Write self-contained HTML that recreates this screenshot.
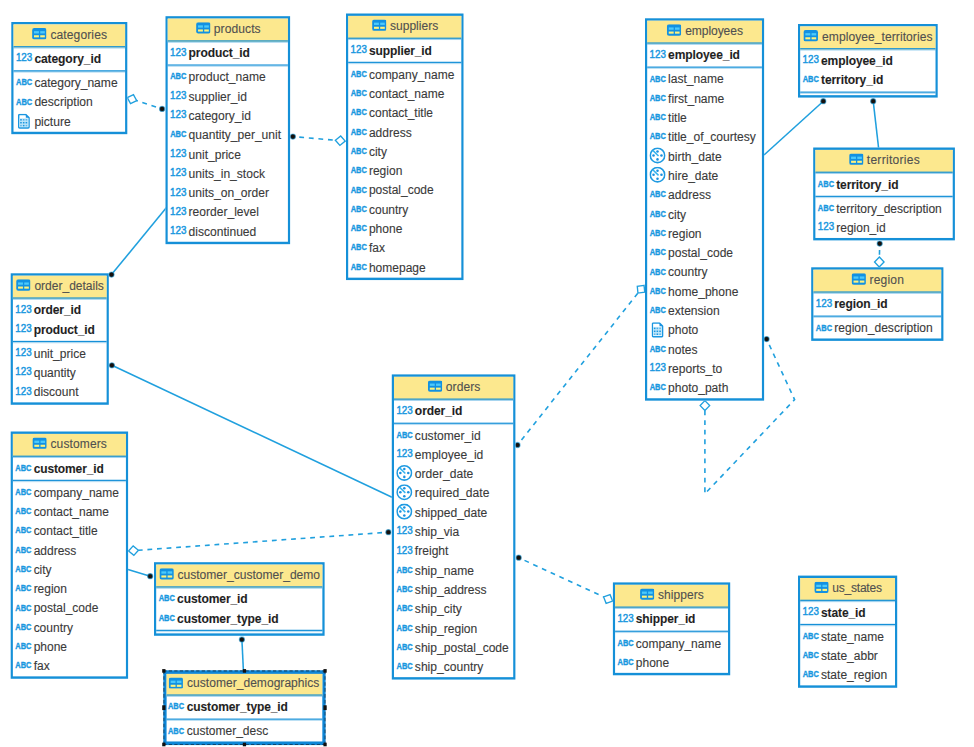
<!DOCTYPE html>
<html lang="en">
<head>
<meta charset="utf-8">
<title>ER Diagram</title>
<style>
html,body{margin:0;padding:0;background:#fff}
body{width:974px;height:747px;overflow:hidden;position:relative;font-family:"Liberation Sans",Arial,sans-serif;font-size:11.04px;color:#3a3a3a}
#erd{position:absolute;left:0;top:0;width:974px;height:747px;overflow:hidden;background:#fff}
#wires{position:absolute;left:0;top:0;width:974px;height:747px;pointer-events:none}
.tbl{position:absolute;left:0;top:0;transform-origin:0 0;box-sizing:border-box;border:2px solid #1590d8;background:#fff;white-space:nowrap}
.hd{position:relative;height:18px;background:#fce88e;border-bottom:1px solid #1590d8;box-shadow:0 1px 0 rgba(23,146,216,.4)}
.hg{position:absolute;top:0;height:18px;line-height:18px}
.ti{position:absolute;left:0;top:3.4px;width:13.3px;height:9.4px}
.hg .t{position:absolute;left:16.62px;top:-1px;display:block;color:#505050;-webkit-text-stroke:0.1px #505050}
.pk{padding:1px 0 2px;border-bottom:1px solid #1590d8;box-shadow:0 1px 0 rgba(23,146,216,.3)}
.at{padding-top:1px}
.row{position:relative;height:16px;line-height:16px}
.nm{position:absolute;left:19.1px;top:-0.1px;-webkit-text-stroke:0.1px #3a3a3a}
.nm.k{font-weight:bold;color:#1f1f1f;letter-spacing:-0.1px}
.ic{position:absolute;color:#1a98df}
svg.ic.n,svg.ic.a{left:1.5px;top:0;width:15.59px;height:16px;overflow:visible;font-family:"Liberation Sans",Arial,sans-serif;fill:#1a98df;stroke:#1a98df}
svg.ic.n{font-size:11.6px;stroke-width:.5px}
svg.ic.a{font-size:9.8px;font-weight:bold;stroke-width:.4px}
svg.ic.d{left:1.9px;top:1.3px;width:14.9px;height:13.4px}
svg.ic.b{left:3.9px;top:2.2px;width:11px;height:12.6px}
.sel{border:3px solid #0f86d6;outline:1px dashed rgba(10,20,30,.55);outline-offset:-1px}
.sel .hd,.sel .hg{height:17px;line-height:17px}
.sel .row,.sel .hg{margin-left:-0.6px}
.sel .ti{top:3px}
.hn{position:absolute;width:3.6px;height:3.4px;background:#111}
</style>
</head>
<body>
<div id="erd">
<svg id="wires" viewBox="0 0 974 747" width="974" height="747" aria-hidden="true">
<g class="wire"><path d="M162.1 108.9 L136.71 100.63" fill="none" stroke="#20a0de" stroke-width="1.6" stroke-dasharray="4.8 4.8" stroke-dashoffset="-6.4"/><circle cx="162.1" cy="108.9" r="2.6" fill="#16100c" stroke="#20a0de" stroke-opacity=".55" stroke-width="1.1"/><polygon points="127.29,97.57 130.53,103.62 136.71,100.63 133.47,94.58" fill="#fff" stroke="#20a0de" stroke-width="1.35" stroke-linejoin="miter"/></g>
<g class="wire"><path d="M292.9 136.6 L335.37 140.27" fill="none" stroke="#20a0de" stroke-width="1.6" stroke-dasharray="4.8 4.8" stroke-dashoffset="-6.4"/><circle cx="292.9" cy="136.6" r="2.6" fill="#16100c" stroke="#20a0de" stroke-opacity=".55" stroke-width="1.1"/><polygon points="345.23,141.13 340.71,135.97 335.37,140.27 339.89,145.43" fill="#fff" stroke="#20a0de" stroke-width="1.35" stroke-linejoin="miter"/></g>
<g class="wire"><path d="M111.5 274.6 L166.5 207.6" fill="none" stroke="#20a0de" stroke-width="1.55"/><circle cx="111.5" cy="274.6" r="2.6" fill="#16100c" stroke="#20a0de" stroke-opacity=".55" stroke-width="1.1"/></g>
<g class="wire"><path d="M111.9 365.3 L392 497.2" fill="none" stroke="#20a0de" stroke-width="1.55"/><circle cx="111.9" cy="365.3" r="2.6" fill="#16100c" stroke="#20a0de" stroke-opacity=".55" stroke-width="1.1"/></g>
<g class="wire"><path d="M388.4 532.2 L138.44 550.24" fill="none" stroke="#20a0de" stroke-width="1.6" stroke-dasharray="4.8 4.8" stroke-dashoffset="-6.4"/><circle cx="388.4" cy="532.2" r="2.6" fill="#16100c" stroke="#20a0de" stroke-opacity=".55" stroke-width="1.1"/><polygon points="128.56,550.96 133.84,555.34 138.44,550.24 133.16,545.86" fill="#fff" stroke="#20a0de" stroke-width="1.35" stroke-linejoin="miter"/></g>
<g class="wire"><path d="M150.2 576.2 L128 569.5" fill="none" stroke="#20a0de" stroke-width="1.55"/><circle cx="150.2" cy="576.2" r="2.6" fill="#16100c" stroke="#20a0de" stroke-opacity=".55" stroke-width="1.1"/></g>
<g class="wire"><path d="M241.9 639.5 L243.4 670.6" fill="none" stroke="#20a0de" stroke-width="1.55"/><circle cx="241.9" cy="639.5" r="2.6" fill="#16100c" stroke="#20a0de" stroke-opacity=".55" stroke-width="1.1"/></g>
<g class="wire"><path d="M517.5 445 L637.93 293.08" fill="none" stroke="#20a0de" stroke-width="1.6" stroke-dasharray="4.8 4.8" stroke-dashoffset="-6.4"/><circle cx="517.5" cy="445" r="2.6" fill="#16100c" stroke="#20a0de" stroke-opacity=".55" stroke-width="1.1"/><polygon points="644.07,285.32 637.28,286.25 637.93,293.08 644.72,292.15" fill="#fff" stroke="#20a0de" stroke-width="1.35" stroke-linejoin="miter"/></g>
<g class="wire"><path d="M518.7 557.7 L603.61 596.92" fill="none" stroke="#20a0de" stroke-width="1.6" stroke-dasharray="4.8 4.8" stroke-dashoffset="-6.4"/><circle cx="518.7" cy="557.7" r="2.6" fill="#16100c" stroke="#20a0de" stroke-opacity=".55" stroke-width="1.1"/><polygon points="612.59,601.08 610.09,594.69 603.61,596.92 606.11,603.31" fill="#fff" stroke="#20a0de" stroke-width="1.35" stroke-linejoin="miter"/></g>
<g class="wire"><path d="M823.3 101.2 L764 155" fill="none" stroke="#20a0de" stroke-width="1.55"/><circle cx="823.3" cy="101.2" r="2.6" fill="#16100c" stroke="#20a0de" stroke-opacity=".55" stroke-width="1.1"/></g>
<g class="wire"><path d="M873.2 101.2 L878.6 148" fill="none" stroke="#20a0de" stroke-width="1.55"/><circle cx="873.2" cy="101.2" r="2.6" fill="#16100c" stroke="#20a0de" stroke-opacity=".55" stroke-width="1.1"/></g>
<g class="wire"><path d="M879.7 243.6 L879.41 257.05" fill="none" stroke="#20a0de" stroke-width="1.6" stroke-dasharray="4.8 4.8" stroke-dashoffset="-6.4"/><circle cx="879.7" cy="243.6" r="2.6" fill="#16100c" stroke="#20a0de" stroke-opacity=".55" stroke-width="1.1"/><polygon points="879.19,266.95 884.05,262.1 879.41,257.05 874.55,261.9" fill="#fff" stroke="#20a0de" stroke-width="1.35" stroke-linejoin="miter"/></g>
<g class="wire"><path d="M766.6 339.1 L794.6 399.6 L704.9 493.8 L704.9 410.55" fill="none" stroke="#20a0de" stroke-width="1.6" stroke-dasharray="4.8 4.8" stroke-dashoffset="-6.4"/><circle cx="766.6" cy="339.1" r="2.6" fill="#16100c" stroke="#20a0de" stroke-opacity=".55" stroke-width="1.1"/><polygon points="704.9,400.65 700.15,405.6 704.9,410.55 709.65,405.6" fill="#fff" stroke="#20a0de" stroke-width="1.35" stroke-linejoin="miter"/></g>
</svg>
<div class="tbl" style="width:106px;height:93px;transform:translate(11.3px,22px) scale(1.0943,1.2062)"><div class="hd"><div class="hg" style="left:17.14px"><svg class="ti" viewBox="0 0 14.5 11.3" preserveAspectRatio="none" aria-hidden="true"><rect x="0" y="0" width="14.5" height="11.3" rx="2.2" fill="#1291e2"/><rect x="1.9" y="3.1" width="4.9" height="2.3" fill="#4ccafb"/><rect x="8.1" y="3.1" width="4.6" height="2.3" fill="#4ccafb"/><rect x="1.9" y="7.2" width="4.9" height="2.1" fill="#fff37c"/><rect x="8.1" y="7.2" width="4.6" height="2.1" fill="#fff37c"/></svg><span class="t" style="letter-spacing:0.092px">categories</span></div></div><div class="pk"><div class="row"><svg class="ic n" viewBox="0 0 17 19.32" preserveAspectRatio="none" aria-hidden="true"><text x="0" y="12.9" transform="translate(0.2 0) scale(.845 1)">123</text></svg><span class="nm k">category_id</span></div></div><div class="at"><div class="row"><svg class="ic a" viewBox="0 0 17 19.32" preserveAspectRatio="none" aria-hidden="true"><text x="0" y="12.6" transform="translate(0.3 0) scale(.765 1)">ABC</text></svg><span class="nm">category_name</span></div><div class="row"><svg class="ic a" viewBox="0 0 17 19.32" preserveAspectRatio="none" aria-hidden="true"><text x="0" y="12.6" transform="translate(0.3 0) scale(.765 1)">ABC</text></svg><span class="nm">description</span></div><div class="row"><svg class="ic b" viewBox="0 0 12 15.2" preserveAspectRatio="none" aria-hidden="true"><path d="M1.8 0.8 H7.9 L11.2 4.1 V13.4 a1 1 0 0 1 -1 1 H1.8 a1 1 0 0 1 -1 -1 V1.8 a1 1 0 0 1 1 -1 Z" fill="#fff" stroke="#1a96e0" stroke-width="1.5" stroke-linejoin="round"/><path d="M7.9 0.8 V4.1 H11.2 Z" fill="#1a90e0"/><rect x="1.6" y="4.6" width="8.8" height="8.6" fill="#bfe6fa"/><g fill="#1a96e0"><rect x="2.3" y="5.4" width="1.6" height="1.5"/><rect x="5" y="5.4" width="1.6" height="1.5" opacity=".7"/><rect x="7.7" y="5.4" width="1.6" height="1.5" opacity=".6"/><rect x="2.3" y="8.3" width="1.6" height="1.5"/><rect x="5" y="8.3" width="1.6" height="1.5"/><rect x="7.7" y="8.3" width="1.6" height="1.5"/><rect x="2.3" y="11.2" width="1.6" height="1.5" opacity=".6"/><rect x="5" y="11.2" width="1.6" height="1.5"/><rect x="7.7" y="11.2" width="1.6" height="1.5" opacity=".6"/></g></svg><span class="nm">picture</span></div></div></div>
<div class="tbl" style="width:114px;height:189px;transform:translate(165.5px,16.2px) scale(1.093,1.2062)"><div class="hd"><div class="hg" style="left:25.63px"><svg class="ti" viewBox="0 0 14.5 11.3" preserveAspectRatio="none" aria-hidden="true"><rect x="0" y="0" width="14.5" height="11.3" rx="2.2" fill="#1291e2"/><rect x="1.9" y="3.1" width="4.9" height="2.3" fill="#4ccafb"/><rect x="8.1" y="3.1" width="4.6" height="2.3" fill="#4ccafb"/><rect x="1.9" y="7.2" width="4.9" height="2.1" fill="#fff37c"/><rect x="8.1" y="7.2" width="4.6" height="2.1" fill="#fff37c"/></svg><span class="t" style="letter-spacing:0.064px">products</span></div></div><div class="pk"><div class="row"><svg class="ic n" viewBox="0 0 17 19.32" preserveAspectRatio="none" aria-hidden="true"><text x="0" y="12.9" transform="translate(0.2 0) scale(.845 1)">123</text></svg><span class="nm k">product_id</span></div></div><div class="at"><div class="row"><svg class="ic a" viewBox="0 0 17 19.32" preserveAspectRatio="none" aria-hidden="true"><text x="0" y="12.6" transform="translate(0.3 0) scale(.765 1)">ABC</text></svg><span class="nm">product_name</span></div><div class="row"><svg class="ic n" viewBox="0 0 17 19.32" preserveAspectRatio="none" aria-hidden="true"><text x="0" y="12.9" transform="translate(0.2 0) scale(.845 1)">123</text></svg><span class="nm">supplier_id</span></div><div class="row"><svg class="ic n" viewBox="0 0 17 19.32" preserveAspectRatio="none" aria-hidden="true"><text x="0" y="12.9" transform="translate(0.2 0) scale(.845 1)">123</text></svg><span class="nm">category_id</span></div><div class="row"><svg class="ic a" viewBox="0 0 17 19.32" preserveAspectRatio="none" aria-hidden="true"><text x="0" y="12.6" transform="translate(0.3 0) scale(.765 1)">ABC</text></svg><span class="nm">quantity_per_unit</span></div><div class="row"><svg class="ic n" viewBox="0 0 17 19.32" preserveAspectRatio="none" aria-hidden="true"><text x="0" y="12.9" transform="translate(0.2 0) scale(.845 1)">123</text></svg><span class="nm">unit_price</span></div><div class="row"><svg class="ic n" viewBox="0 0 17 19.32" preserveAspectRatio="none" aria-hidden="true"><text x="0" y="12.9" transform="translate(0.2 0) scale(.845 1)">123</text></svg><span class="nm">units_in_stock</span></div><div class="row"><svg class="ic n" viewBox="0 0 17 19.32" preserveAspectRatio="none" aria-hidden="true"><text x="0" y="12.9" transform="translate(0.2 0) scale(.845 1)">123</text></svg><span class="nm">units_on_order</span></div><div class="row"><svg class="ic n" viewBox="0 0 17 19.32" preserveAspectRatio="none" aria-hidden="true"><text x="0" y="12.9" transform="translate(0.2 0) scale(.845 1)">123</text></svg><span class="nm">reorder_level</span></div><div class="row"><svg class="ic n" viewBox="0 0 17 19.32" preserveAspectRatio="none" aria-hidden="true"><text x="0" y="12.9" transform="translate(0.2 0) scale(.845 1)">123</text></svg><span class="nm">discontinued</span></div></div></div>
<div class="tbl" style="width:108px;height:221px;transform:translate(346px,13.5px) scale(1.088,1.2062)"><div class="hd"><div class="hg" style="left:21.81px"><svg class="ti" viewBox="0 0 14.5 11.3" preserveAspectRatio="none" aria-hidden="true"><rect x="0" y="0" width="14.5" height="11.3" rx="2.2" fill="#1291e2"/><rect x="1.9" y="3.1" width="4.9" height="2.3" fill="#4ccafb"/><rect x="8.1" y="3.1" width="4.6" height="2.3" fill="#4ccafb"/><rect x="1.9" y="7.2" width="4.9" height="2.1" fill="#fff37c"/><rect x="8.1" y="7.2" width="4.6" height="2.1" fill="#fff37c"/></svg><span class="t" style="letter-spacing:0.028px">suppliers</span></div></div><div class="pk"><div class="row"><svg class="ic n" viewBox="0 0 17 19.32" preserveAspectRatio="none" aria-hidden="true"><text x="0" y="12.9" transform="translate(0.2 0) scale(.845 1)">123</text></svg><span class="nm k">supplier_id</span></div></div><div class="at"><div class="row"><svg class="ic a" viewBox="0 0 17 19.32" preserveAspectRatio="none" aria-hidden="true"><text x="0" y="12.6" transform="translate(0.3 0) scale(.765 1)">ABC</text></svg><span class="nm">company_name</span></div><div class="row"><svg class="ic a" viewBox="0 0 17 19.32" preserveAspectRatio="none" aria-hidden="true"><text x="0" y="12.6" transform="translate(0.3 0) scale(.765 1)">ABC</text></svg><span class="nm">contact_name</span></div><div class="row"><svg class="ic a" viewBox="0 0 17 19.32" preserveAspectRatio="none" aria-hidden="true"><text x="0" y="12.6" transform="translate(0.3 0) scale(.765 1)">ABC</text></svg><span class="nm">contact_title</span></div><div class="row"><svg class="ic a" viewBox="0 0 17 19.32" preserveAspectRatio="none" aria-hidden="true"><text x="0" y="12.6" transform="translate(0.3 0) scale(.765 1)">ABC</text></svg><span class="nm">address</span></div><div class="row"><svg class="ic a" viewBox="0 0 17 19.32" preserveAspectRatio="none" aria-hidden="true"><text x="0" y="12.6" transform="translate(0.3 0) scale(.765 1)">ABC</text></svg><span class="nm">city</span></div><div class="row"><svg class="ic a" viewBox="0 0 17 19.32" preserveAspectRatio="none" aria-hidden="true"><text x="0" y="12.6" transform="translate(0.3 0) scale(.765 1)">ABC</text></svg><span class="nm">region</span></div><div class="row"><svg class="ic a" viewBox="0 0 17 19.32" preserveAspectRatio="none" aria-hidden="true"><text x="0" y="12.6" transform="translate(0.3 0) scale(.765 1)">ABC</text></svg><span class="nm">postal_code</span></div><div class="row"><svg class="ic a" viewBox="0 0 17 19.32" preserveAspectRatio="none" aria-hidden="true"><text x="0" y="12.6" transform="translate(0.3 0) scale(.765 1)">ABC</text></svg><span class="nm">country</span></div><div class="row"><svg class="ic a" viewBox="0 0 17 19.32" preserveAspectRatio="none" aria-hidden="true"><text x="0" y="12.6" transform="translate(0.3 0) scale(.765 1)">ABC</text></svg><span class="nm">phone</span></div><div class="row"><svg class="ic a" viewBox="0 0 17 19.32" preserveAspectRatio="none" aria-hidden="true"><text x="0" y="12.6" transform="translate(0.3 0) scale(.765 1)">ABC</text></svg><span class="nm">fax</span></div><div class="row"><svg class="ic a" viewBox="0 0 17 19.32" preserveAspectRatio="none" aria-hidden="true"><text x="0" y="12.6" transform="translate(0.3 0) scale(.765 1)">ABC</text></svg><span class="nm">homepage</span></div></div></div>
<div class="tbl" style="width:109px;height:317px;transform:translate(645px,18.3px) scale(1.0927,1.2062)"><div class="hd"><div class="hg" style="left:18.13px"><svg class="ti" viewBox="0 0 14.5 11.3" preserveAspectRatio="none" aria-hidden="true"><rect x="0" y="0" width="14.5" height="11.3" rx="2.2" fill="#1291e2"/><rect x="1.9" y="3.1" width="4.9" height="2.3" fill="#4ccafb"/><rect x="8.1" y="3.1" width="4.6" height="2.3" fill="#4ccafb"/><rect x="1.9" y="7.2" width="4.9" height="2.1" fill="#fff37c"/><rect x="8.1" y="7.2" width="4.6" height="2.1" fill="#fff37c"/></svg><span class="t" style="letter-spacing:-0.06px">employees</span></div></div><div class="pk"><div class="row"><svg class="ic n" viewBox="0 0 17 19.32" preserveAspectRatio="none" aria-hidden="true"><text x="0" y="12.9" transform="translate(0.2 0) scale(.845 1)">123</text></svg><span class="nm k">employee_id</span></div></div><div class="at"><div class="row"><svg class="ic a" viewBox="0 0 17 19.32" preserveAspectRatio="none" aria-hidden="true"><text x="0" y="12.6" transform="translate(0.3 0) scale(.765 1)">ABC</text></svg><span class="nm">last_name</span></div><div class="row"><svg class="ic a" viewBox="0 0 17 19.32" preserveAspectRatio="none" aria-hidden="true"><text x="0" y="12.6" transform="translate(0.3 0) scale(.765 1)">ABC</text></svg><span class="nm">first_name</span></div><div class="row"><svg class="ic a" viewBox="0 0 17 19.32" preserveAspectRatio="none" aria-hidden="true"><text x="0" y="12.6" transform="translate(0.3 0) scale(.765 1)">ABC</text></svg><span class="nm">title</span></div><div class="row"><svg class="ic a" viewBox="0 0 17 19.32" preserveAspectRatio="none" aria-hidden="true"><text x="0" y="12.6" transform="translate(0.3 0) scale(.765 1)">ABC</text></svg><span class="nm">title_of_courtesy</span></div><div class="row"><svg class="ic d" viewBox="0 0 16 16" preserveAspectRatio="none" aria-hidden="true"><circle cx="8" cy="8" r="7.1" fill="#fff" stroke="#1f9ae1" stroke-width="1.55"/><path d="M3.4 3 L9 8.6" stroke="#35b4ee" stroke-width="1.5" fill="none"/><circle cx="8" cy="4.1" r="1.25" fill="#1a90e0"/><circle cx="8" cy="11.9" r="1.25" fill="#1a90e0"/><circle cx="4.1" cy="8" r="1.25" fill="#1a90e0"/><circle cx="11.9" cy="8" r="1.25" fill="#1a90e0"/></svg><span class="nm">birth_date</span></div><div class="row"><svg class="ic d" viewBox="0 0 16 16" preserveAspectRatio="none" aria-hidden="true"><circle cx="8" cy="8" r="7.1" fill="#fff" stroke="#1f9ae1" stroke-width="1.55"/><path d="M3.4 3 L9 8.6" stroke="#35b4ee" stroke-width="1.5" fill="none"/><circle cx="8" cy="4.1" r="1.25" fill="#1a90e0"/><circle cx="8" cy="11.9" r="1.25" fill="#1a90e0"/><circle cx="4.1" cy="8" r="1.25" fill="#1a90e0"/><circle cx="11.9" cy="8" r="1.25" fill="#1a90e0"/></svg><span class="nm">hire_date</span></div><div class="row"><svg class="ic a" viewBox="0 0 17 19.32" preserveAspectRatio="none" aria-hidden="true"><text x="0" y="12.6" transform="translate(0.3 0) scale(.765 1)">ABC</text></svg><span class="nm">address</span></div><div class="row"><svg class="ic a" viewBox="0 0 17 19.32" preserveAspectRatio="none" aria-hidden="true"><text x="0" y="12.6" transform="translate(0.3 0) scale(.765 1)">ABC</text></svg><span class="nm">city</span></div><div class="row"><svg class="ic a" viewBox="0 0 17 19.32" preserveAspectRatio="none" aria-hidden="true"><text x="0" y="12.6" transform="translate(0.3 0) scale(.765 1)">ABC</text></svg><span class="nm">region</span></div><div class="row"><svg class="ic a" viewBox="0 0 17 19.32" preserveAspectRatio="none" aria-hidden="true"><text x="0" y="12.6" transform="translate(0.3 0) scale(.765 1)">ABC</text></svg><span class="nm">postal_code</span></div><div class="row"><svg class="ic a" viewBox="0 0 17 19.32" preserveAspectRatio="none" aria-hidden="true"><text x="0" y="12.6" transform="translate(0.3 0) scale(.765 1)">ABC</text></svg><span class="nm">country</span></div><div class="row"><svg class="ic a" viewBox="0 0 17 19.32" preserveAspectRatio="none" aria-hidden="true"><text x="0" y="12.6" transform="translate(0.3 0) scale(.765 1)">ABC</text></svg><span class="nm">home_phone</span></div><div class="row"><svg class="ic a" viewBox="0 0 17 19.32" preserveAspectRatio="none" aria-hidden="true"><text x="0" y="12.6" transform="translate(0.3 0) scale(.765 1)">ABC</text></svg><span class="nm">extension</span></div><div class="row"><svg class="ic b" viewBox="0 0 12 15.2" preserveAspectRatio="none" aria-hidden="true"><path d="M1.8 0.8 H7.9 L11.2 4.1 V13.4 a1 1 0 0 1 -1 1 H1.8 a1 1 0 0 1 -1 -1 V1.8 a1 1 0 0 1 1 -1 Z" fill="#fff" stroke="#1a96e0" stroke-width="1.5" stroke-linejoin="round"/><path d="M7.9 0.8 V4.1 H11.2 Z" fill="#1a90e0"/><rect x="1.6" y="4.6" width="8.8" height="8.6" fill="#bfe6fa"/><g fill="#1a96e0"><rect x="2.3" y="5.4" width="1.6" height="1.5"/><rect x="5" y="5.4" width="1.6" height="1.5" opacity=".7"/><rect x="7.7" y="5.4" width="1.6" height="1.5" opacity=".6"/><rect x="2.3" y="8.3" width="1.6" height="1.5"/><rect x="5" y="8.3" width="1.6" height="1.5"/><rect x="7.7" y="8.3" width="1.6" height="1.5"/><rect x="2.3" y="11.2" width="1.6" height="1.5" opacity=".6"/><rect x="5" y="11.2" width="1.6" height="1.5"/><rect x="7.7" y="11.2" width="1.6" height="1.5" opacity=".6"/></g></svg><span class="nm">photo</span></div><div class="row"><svg class="ic a" viewBox="0 0 17 19.32" preserveAspectRatio="none" aria-hidden="true"><text x="0" y="12.6" transform="translate(0.3 0) scale(.765 1)">ABC</text></svg><span class="nm">notes</span></div><div class="row"><svg class="ic n" viewBox="0 0 17 19.32" preserveAspectRatio="none" aria-hidden="true"><text x="0" y="12.9" transform="translate(0.2 0) scale(.845 1)">123</text></svg><span class="nm">reports_to</span></div><div class="row"><svg class="ic a" viewBox="0 0 17 19.32" preserveAspectRatio="none" aria-hidden="true"><text x="0" y="12.6" transform="translate(0.3 0) scale(.765 1)">ABC</text></svg><span class="nm">photo_path</span></div></div></div>
<div class="tbl" style="width:128px;height:61px;transform:translate(798px,24px) scale(1.0914,1.2062)"><div class="hd"><div class="hg" style="left:3.41px"><svg class="ti" viewBox="0 0 14.5 11.3" preserveAspectRatio="none" aria-hidden="true"><rect x="0" y="0" width="14.5" height="11.3" rx="2.2" fill="#1291e2"/><rect x="1.9" y="3.1" width="4.9" height="2.3" fill="#4ccafb"/><rect x="8.1" y="3.1" width="4.6" height="2.3" fill="#4ccafb"/><rect x="1.9" y="7.2" width="4.9" height="2.1" fill="#fff37c"/><rect x="8.1" y="7.2" width="4.6" height="2.1" fill="#fff37c"/></svg><span class="t" style="letter-spacing:0.065px">employee_territories</span></div></div><div class="pk"><div class="row"><svg class="ic n" viewBox="0 0 17 19.32" preserveAspectRatio="none" aria-hidden="true"><text x="0" y="12.9" transform="translate(0.2 0) scale(.845 1)">123</text></svg><span class="nm k">employee_id</span></div><div class="row"><svg class="ic a" viewBox="0 0 17 19.32" preserveAspectRatio="none" aria-hidden="true"><text x="0" y="12.6" transform="translate(0.3 0) scale(.765 1)">ABC</text></svg><span class="nm k">territory_id</span></div></div><div class="at"></div></div>
<div class="tbl" style="width:130px;height:77px;transform:translate(813.2px,147.5px) scale(1.09,1.2062)"><div class="hd"><div class="hg" style="left:30.52px"><svg class="ti" viewBox="0 0 14.5 11.3" preserveAspectRatio="none" aria-hidden="true"><rect x="0" y="0" width="14.5" height="11.3" rx="2.2" fill="#1291e2"/><rect x="1.9" y="3.1" width="4.9" height="2.3" fill="#4ccafb"/><rect x="8.1" y="3.1" width="4.6" height="2.3" fill="#4ccafb"/><rect x="1.9" y="7.2" width="4.9" height="2.1" fill="#fff37c"/><rect x="8.1" y="7.2" width="4.6" height="2.1" fill="#fff37c"/></svg><span class="t" style="letter-spacing:0.274px">territories</span></div></div><div class="pk"><div class="row"><svg class="ic a" viewBox="0 0 17 19.32" preserveAspectRatio="none" aria-hidden="true"><text x="0" y="12.6" transform="translate(0.3 0) scale(.765 1)">ABC</text></svg><span class="nm k">territory_id</span></div></div><div class="at"><div class="row"><svg class="ic a" viewBox="0 0 17 19.32" preserveAspectRatio="none" aria-hidden="true"><text x="0" y="12.6" transform="translate(0.3 0) scale(.765 1)">ABC</text></svg><span class="nm">territory_description</span></div><div class="row"><svg class="ic n" viewBox="0 0 17 19.32" preserveAspectRatio="none" aria-hidden="true"><text x="0" y="12.9" transform="translate(0.2 0) scale(.845 1)">123</text></svg><span class="nm">region_id</span></div></div></div>
<div class="tbl" style="width:121px;height:61px;transform:translate(811.2px,267.3px) scale(1.0926,1.2062)"><div class="hd"><div class="hg" style="left:34.75px"><svg class="ti" viewBox="0 0 14.5 11.3" preserveAspectRatio="none" aria-hidden="true"><rect x="0" y="0" width="14.5" height="11.3" rx="2.2" fill="#1291e2"/><rect x="1.9" y="3.1" width="4.9" height="2.3" fill="#4ccafb"/><rect x="8.1" y="3.1" width="4.6" height="2.3" fill="#4ccafb"/><rect x="1.9" y="7.2" width="4.9" height="2.1" fill="#fff37c"/><rect x="8.1" y="7.2" width="4.6" height="2.1" fill="#fff37c"/></svg><span class="t" style="letter-spacing:0.152px">region</span></div></div><div class="pk"><div class="row"><svg class="ic n" viewBox="0 0 17 19.32" preserveAspectRatio="none" aria-hidden="true"><text x="0" y="12.9" transform="translate(0.2 0) scale(.845 1)">123</text></svg><span class="nm k">region_id</span></div></div><div class="at"><div class="row"><svg class="ic a" viewBox="0 0 17 19.32" preserveAspectRatio="none" aria-hidden="true"><text x="0" y="12.6" transform="translate(0.3 0) scale(.765 1)">ABC</text></svg><span class="nm">region_description</span></div></div></div>
<div class="tbl" style="width:90px;height:109px;transform:translate(10.7px,273.3px) scale(1.09,1.2062)"><div class="hd"><div class="hg" style="left:3.18px"><svg class="ti" viewBox="0 0 14.5 11.3" preserveAspectRatio="none" aria-hidden="true"><rect x="0" y="0" width="14.5" height="11.3" rx="2.2" fill="#1291e2"/><rect x="1.9" y="3.1" width="4.9" height="2.3" fill="#4ccafb"/><rect x="8.1" y="3.1" width="4.6" height="2.3" fill="#4ccafb"/><rect x="1.9" y="7.2" width="4.9" height="2.1" fill="#fff37c"/><rect x="8.1" y="7.2" width="4.6" height="2.1" fill="#fff37c"/></svg><span class="t" style="letter-spacing:-0.008px">order_details</span></div></div><div class="pk"><div class="row"><svg class="ic n" viewBox="0 0 17 19.32" preserveAspectRatio="none" aria-hidden="true"><text x="0" y="12.9" transform="translate(0.2 0) scale(.845 1)">123</text></svg><span class="nm k">order_id</span></div><div class="row"><svg class="ic n" viewBox="0 0 17 19.32" preserveAspectRatio="none" aria-hidden="true"><text x="0" y="12.9" transform="translate(0.2 0) scale(.845 1)">123</text></svg><span class="nm k">product_id</span></div></div><div class="at"><div class="row"><svg class="ic n" viewBox="0 0 17 19.32" preserveAspectRatio="none" aria-hidden="true"><text x="0" y="12.9" transform="translate(0.2 0) scale(.845 1)">123</text></svg><span class="nm">unit_price</span></div><div class="row"><svg class="ic n" viewBox="0 0 17 19.32" preserveAspectRatio="none" aria-hidden="true"><text x="0" y="12.9" transform="translate(0.2 0) scale(.845 1)">123</text></svg><span class="nm">quantity</span></div><div class="row"><svg class="ic n" viewBox="0 0 17 19.32" preserveAspectRatio="none" aria-hidden="true"><text x="0" y="12.9" transform="translate(0.2 0) scale(.845 1)">123</text></svg><span class="nm">discount</span></div></div></div>
<div class="tbl" style="width:108px;height:205px;transform:translate(10.7px,431.5px) scale(1.087,1.2062)"><div class="hd"><div class="hg" style="left:18.01px"><svg class="ti" viewBox="0 0 14.5 11.3" preserveAspectRatio="none" aria-hidden="true"><rect x="0" y="0" width="14.5" height="11.3" rx="2.2" fill="#1291e2"/><rect x="1.9" y="3.1" width="4.9" height="2.3" fill="#4ccafb"/><rect x="8.1" y="3.1" width="4.6" height="2.3" fill="#4ccafb"/><rect x="1.9" y="7.2" width="4.9" height="2.1" fill="#fff37c"/><rect x="8.1" y="7.2" width="4.6" height="2.1" fill="#fff37c"/></svg><span class="t" style="letter-spacing:0.122px">customers</span></div></div><div class="pk"><div class="row"><svg class="ic a" viewBox="0 0 17 19.32" preserveAspectRatio="none" aria-hidden="true"><text x="0" y="12.6" transform="translate(0.3 0) scale(.765 1)">ABC</text></svg><span class="nm k">customer_id</span></div></div><div class="at"><div class="row"><svg class="ic a" viewBox="0 0 17 19.32" preserveAspectRatio="none" aria-hidden="true"><text x="0" y="12.6" transform="translate(0.3 0) scale(.765 1)">ABC</text></svg><span class="nm">company_name</span></div><div class="row"><svg class="ic a" viewBox="0 0 17 19.32" preserveAspectRatio="none" aria-hidden="true"><text x="0" y="12.6" transform="translate(0.3 0) scale(.765 1)">ABC</text></svg><span class="nm">contact_name</span></div><div class="row"><svg class="ic a" viewBox="0 0 17 19.32" preserveAspectRatio="none" aria-hidden="true"><text x="0" y="12.6" transform="translate(0.3 0) scale(.765 1)">ABC</text></svg><span class="nm">contact_title</span></div><div class="row"><svg class="ic a" viewBox="0 0 17 19.32" preserveAspectRatio="none" aria-hidden="true"><text x="0" y="12.6" transform="translate(0.3 0) scale(.765 1)">ABC</text></svg><span class="nm">address</span></div><div class="row"><svg class="ic a" viewBox="0 0 17 19.32" preserveAspectRatio="none" aria-hidden="true"><text x="0" y="12.6" transform="translate(0.3 0) scale(.765 1)">ABC</text></svg><span class="nm">city</span></div><div class="row"><svg class="ic a" viewBox="0 0 17 19.32" preserveAspectRatio="none" aria-hidden="true"><text x="0" y="12.6" transform="translate(0.3 0) scale(.765 1)">ABC</text></svg><span class="nm">region</span></div><div class="row"><svg class="ic a" viewBox="0 0 17 19.32" preserveAspectRatio="none" aria-hidden="true"><text x="0" y="12.6" transform="translate(0.3 0) scale(.765 1)">ABC</text></svg><span class="nm">postal_code</span></div><div class="row"><svg class="ic a" viewBox="0 0 17 19.32" preserveAspectRatio="none" aria-hidden="true"><text x="0" y="12.6" transform="translate(0.3 0) scale(.765 1)">ABC</text></svg><span class="nm">country</span></div><div class="row"><svg class="ic a" viewBox="0 0 17 19.32" preserveAspectRatio="none" aria-hidden="true"><text x="0" y="12.6" transform="translate(0.3 0) scale(.765 1)">ABC</text></svg><span class="nm">phone</span></div><div class="row"><svg class="ic a" viewBox="0 0 17 19.32" preserveAspectRatio="none" aria-hidden="true"><text x="0" y="12.6" transform="translate(0.3 0) scale(.765 1)">ABC</text></svg><span class="nm">fax</span></div></div></div>
<div class="tbl" style="width:113px;height:253px;transform:translate(391.8px,374.4px) scale(1.0938,1.2062)"><div class="hd"><div class="hg" style="left:30.78px"><svg class="ti" viewBox="0 0 14.5 11.3" preserveAspectRatio="none" aria-hidden="true"><rect x="0" y="0" width="14.5" height="11.3" rx="2.2" fill="#1291e2"/><rect x="1.9" y="3.1" width="4.9" height="2.3" fill="#4ccafb"/><rect x="8.1" y="3.1" width="4.6" height="2.3" fill="#4ccafb"/><rect x="1.9" y="7.2" width="4.9" height="2.1" fill="#fff37c"/><rect x="8.1" y="7.2" width="4.6" height="2.1" fill="#fff37c"/></svg><span class="t" style="letter-spacing:0.046px">orders</span></div></div><div class="pk"><div class="row"><svg class="ic n" viewBox="0 0 17 19.32" preserveAspectRatio="none" aria-hidden="true"><text x="0" y="12.9" transform="translate(0.2 0) scale(.845 1)">123</text></svg><span class="nm k">order_id</span></div></div><div class="at"><div class="row"><svg class="ic a" viewBox="0 0 17 19.32" preserveAspectRatio="none" aria-hidden="true"><text x="0" y="12.6" transform="translate(0.3 0) scale(.765 1)">ABC</text></svg><span class="nm">customer_id</span></div><div class="row"><svg class="ic n" viewBox="0 0 17 19.32" preserveAspectRatio="none" aria-hidden="true"><text x="0" y="12.9" transform="translate(0.2 0) scale(.845 1)">123</text></svg><span class="nm">employee_id</span></div><div class="row"><svg class="ic d" viewBox="0 0 16 16" preserveAspectRatio="none" aria-hidden="true"><circle cx="8" cy="8" r="7.1" fill="#fff" stroke="#1f9ae1" stroke-width="1.55"/><path d="M3.4 3 L9 8.6" stroke="#35b4ee" stroke-width="1.5" fill="none"/><circle cx="8" cy="4.1" r="1.25" fill="#1a90e0"/><circle cx="8" cy="11.9" r="1.25" fill="#1a90e0"/><circle cx="4.1" cy="8" r="1.25" fill="#1a90e0"/><circle cx="11.9" cy="8" r="1.25" fill="#1a90e0"/></svg><span class="nm">order_date</span></div><div class="row"><svg class="ic d" viewBox="0 0 16 16" preserveAspectRatio="none" aria-hidden="true"><circle cx="8" cy="8" r="7.1" fill="#fff" stroke="#1f9ae1" stroke-width="1.55"/><path d="M3.4 3 L9 8.6" stroke="#35b4ee" stroke-width="1.5" fill="none"/><circle cx="8" cy="4.1" r="1.25" fill="#1a90e0"/><circle cx="8" cy="11.9" r="1.25" fill="#1a90e0"/><circle cx="4.1" cy="8" r="1.25" fill="#1a90e0"/><circle cx="11.9" cy="8" r="1.25" fill="#1a90e0"/></svg><span class="nm">required_date</span></div><div class="row"><svg class="ic d" viewBox="0 0 16 16" preserveAspectRatio="none" aria-hidden="true"><circle cx="8" cy="8" r="7.1" fill="#fff" stroke="#1f9ae1" stroke-width="1.55"/><path d="M3.4 3 L9 8.6" stroke="#35b4ee" stroke-width="1.5" fill="none"/><circle cx="8" cy="4.1" r="1.25" fill="#1a90e0"/><circle cx="8" cy="11.9" r="1.25" fill="#1a90e0"/><circle cx="4.1" cy="8" r="1.25" fill="#1a90e0"/><circle cx="11.9" cy="8" r="1.25" fill="#1a90e0"/></svg><span class="nm">shipped_date</span></div><div class="row"><svg class="ic n" viewBox="0 0 17 19.32" preserveAspectRatio="none" aria-hidden="true"><text x="0" y="12.9" transform="translate(0.2 0) scale(.845 1)">123</text></svg><span class="nm">ship_via</span></div><div class="row"><svg class="ic n" viewBox="0 0 17 19.32" preserveAspectRatio="none" aria-hidden="true"><text x="0" y="12.9" transform="translate(0.2 0) scale(.845 1)">123</text></svg><span class="nm">freight</span></div><div class="row"><svg class="ic a" viewBox="0 0 17 19.32" preserveAspectRatio="none" aria-hidden="true"><text x="0" y="12.6" transform="translate(0.3 0) scale(.765 1)">ABC</text></svg><span class="nm">ship_name</span></div><div class="row"><svg class="ic a" viewBox="0 0 17 19.32" preserveAspectRatio="none" aria-hidden="true"><text x="0" y="12.6" transform="translate(0.3 0) scale(.765 1)">ABC</text></svg><span class="nm">ship_address</span></div><div class="row"><svg class="ic a" viewBox="0 0 17 19.32" preserveAspectRatio="none" aria-hidden="true"><text x="0" y="12.6" transform="translate(0.3 0) scale(.765 1)">ABC</text></svg><span class="nm">ship_city</span></div><div class="row"><svg class="ic a" viewBox="0 0 17 19.32" preserveAspectRatio="none" aria-hidden="true"><text x="0" y="12.6" transform="translate(0.3 0) scale(.765 1)">ABC</text></svg><span class="nm">ship_region</span></div><div class="row"><svg class="ic a" viewBox="0 0 17 19.32" preserveAspectRatio="none" aria-hidden="true"><text x="0" y="12.6" transform="translate(0.3 0) scale(.765 1)">ABC</text></svg><span class="nm">ship_postal_code</span></div><div class="row"><svg class="ic a" viewBox="0 0 17 19.32" preserveAspectRatio="none" aria-hidden="true"><text x="0" y="12.6" transform="translate(0.3 0) scale(.765 1)">ABC</text></svg><span class="nm">ship_country</span></div></div></div>
<div class="tbl" style="width:156px;height:61px;transform:translate(154px,562.2px) scale(1.0936,1.2062)"><div class="hd"><div class="hg" style="left:2.89px"><svg class="ti" viewBox="0 0 14.5 11.3" preserveAspectRatio="none" aria-hidden="true"><rect x="0" y="0" width="14.5" height="11.3" rx="2.2" fill="#1291e2"/><rect x="1.9" y="3.1" width="4.9" height="2.3" fill="#4ccafb"/><rect x="8.1" y="3.1" width="4.6" height="2.3" fill="#4ccafb"/><rect x="1.9" y="7.2" width="4.9" height="2.1" fill="#fff37c"/><rect x="8.1" y="7.2" width="4.6" height="2.1" fill="#fff37c"/></svg><span class="t" style="letter-spacing:-0.013px">customer_customer_demo</span></div></div><div class="pk"><div class="row"><svg class="ic a" viewBox="0 0 17 19.32" preserveAspectRatio="none" aria-hidden="true"><text x="0" y="12.6" transform="translate(0.3 0) scale(.765 1)">ABC</text></svg><span class="nm k">customer_id</span></div><div class="row"><svg class="ic a" viewBox="0 0 17 19.32" preserveAspectRatio="none" aria-hidden="true"><text x="0" y="12.6" transform="translate(0.3 0) scale(.765 1)">ABC</text></svg><span class="nm k">customer_type_id</span></div></div><div class="at"></div></div>
<div class="tbl sel" style="width:149px;height:62px;transform:translate(163.3px,670.3px) scale(1.0893,1.2062)"><div class="hd"><div class="hg" style="left:2.78px"><svg class="ti" viewBox="0 0 14.5 11.3" preserveAspectRatio="none" aria-hidden="true"><rect x="0" y="0" width="14.5" height="11.3" rx="2.2" fill="#1291e2"/><rect x="1.9" y="3.1" width="4.9" height="2.3" fill="#4ccafb"/><rect x="8.1" y="3.1" width="4.6" height="2.3" fill="#4ccafb"/><rect x="1.9" y="7.2" width="4.9" height="2.1" fill="#fff37c"/><rect x="8.1" y="7.2" width="4.6" height="2.1" fill="#fff37c"/></svg><span class="t" style="letter-spacing:0.032px">customer_demographics</span></div></div><div class="pk"><div class="row"><svg class="ic a" viewBox="0 0 17 19.32" preserveAspectRatio="none" aria-hidden="true"><text x="0" y="12.6" transform="translate(0.3 0) scale(.765 1)">ABC</text></svg><span class="nm k">customer_type_id</span></div></div><div class="at"><div class="row"><svg class="ic a" viewBox="0 0 17 19.32" preserveAspectRatio="none" aria-hidden="true"><text x="0" y="12.6" transform="translate(0.3 0) scale(.765 1)">ABC</text></svg><span class="nm">customer_desc</span></div></div><i class="hn" style="left:-4.3px;top:-4.1px"></i><i class="hn" style="left:69.7px;top:-4.1px"></i><i class="hn" style="left:143.7px;top:-4.1px"></i><i class="hn" style="left:-4.3px;top:26.4px"></i><i class="hn" style="left:143.7px;top:26.4px"></i><i class="hn" style="left:-4.3px;top:56.9px"></i><i class="hn" style="left:69.7px;top:56.9px"></i><i class="hn" style="left:143.7px;top:56.9px"></i></div>
<div class="tbl" style="width:108px;height:77px;transform:translate(612.9px,582.4px) scale(1.0861,1.2062)"><div class="hd"><div class="hg" style="left:22.86px"><svg class="ti" viewBox="0 0 14.5 11.3" preserveAspectRatio="none" aria-hidden="true"><rect x="0" y="0" width="14.5" height="11.3" rx="2.2" fill="#1291e2"/><rect x="1.9" y="3.1" width="4.9" height="2.3" fill="#4ccafb"/><rect x="8.1" y="3.1" width="4.6" height="2.3" fill="#4ccafb"/><rect x="1.9" y="7.2" width="4.9" height="2.1" fill="#fff37c"/><rect x="8.1" y="7.2" width="4.6" height="2.1" fill="#fff37c"/></svg><span class="t" style="letter-spacing:0.071px">shippers</span></div></div><div class="pk"><div class="row"><svg class="ic n" viewBox="0 0 17 19.32" preserveAspectRatio="none" aria-hidden="true"><text x="0" y="12.9" transform="translate(0.2 0) scale(.845 1)">123</text></svg><span class="nm k">shipper_id</span></div></div><div class="at"><div class="row"><svg class="ic a" viewBox="0 0 17 19.32" preserveAspectRatio="none" aria-hidden="true"><text x="0" y="12.6" transform="translate(0.3 0) scale(.765 1)">ABC</text></svg><span class="nm">company_name</span></div><div class="row"><svg class="ic a" viewBox="0 0 17 19.32" preserveAspectRatio="none" aria-hidden="true"><text x="0" y="12.6" transform="translate(0.3 0) scale(.765 1)">ABC</text></svg><span class="nm">phone</span></div></div></div>
<div class="tbl" style="width:91px;height:93px;transform:translate(798px,575.6px) scale(1.0901,1.2062)"><div class="hd"><div class="hg" style="left:12.91px"><svg class="ti" viewBox="0 0 14.5 11.3" preserveAspectRatio="none" aria-hidden="true"><rect x="0" y="0" width="14.5" height="11.3" rx="2.2" fill="#1291e2"/><rect x="1.9" y="3.1" width="4.9" height="2.3" fill="#4ccafb"/><rect x="8.1" y="3.1" width="4.6" height="2.3" fill="#4ccafb"/><rect x="1.9" y="7.2" width="4.9" height="2.1" fill="#fff37c"/><rect x="8.1" y="7.2" width="4.6" height="2.1" fill="#fff37c"/></svg><span class="t" style="letter-spacing:-0.221px">us_states</span></div></div><div class="pk"><div class="row"><svg class="ic n" viewBox="0 0 17 19.32" preserveAspectRatio="none" aria-hidden="true"><text x="0" y="12.9" transform="translate(0.2 0) scale(.845 1)">123</text></svg><span class="nm k">state_id</span></div></div><div class="at"><div class="row"><svg class="ic a" viewBox="0 0 17 19.32" preserveAspectRatio="none" aria-hidden="true"><text x="0" y="12.6" transform="translate(0.3 0) scale(.765 1)">ABC</text></svg><span class="nm">state_name</span></div><div class="row"><svg class="ic a" viewBox="0 0 17 19.32" preserveAspectRatio="none" aria-hidden="true"><text x="0" y="12.6" transform="translate(0.3 0) scale(.765 1)">ABC</text></svg><span class="nm">state_abbr</span></div><div class="row"><svg class="ic a" viewBox="0 0 17 19.32" preserveAspectRatio="none" aria-hidden="true"><text x="0" y="12.6" transform="translate(0.3 0) scale(.765 1)">ABC</text></svg><span class="nm">state_region</span></div></div></div>
</div>
</body>
</html>
